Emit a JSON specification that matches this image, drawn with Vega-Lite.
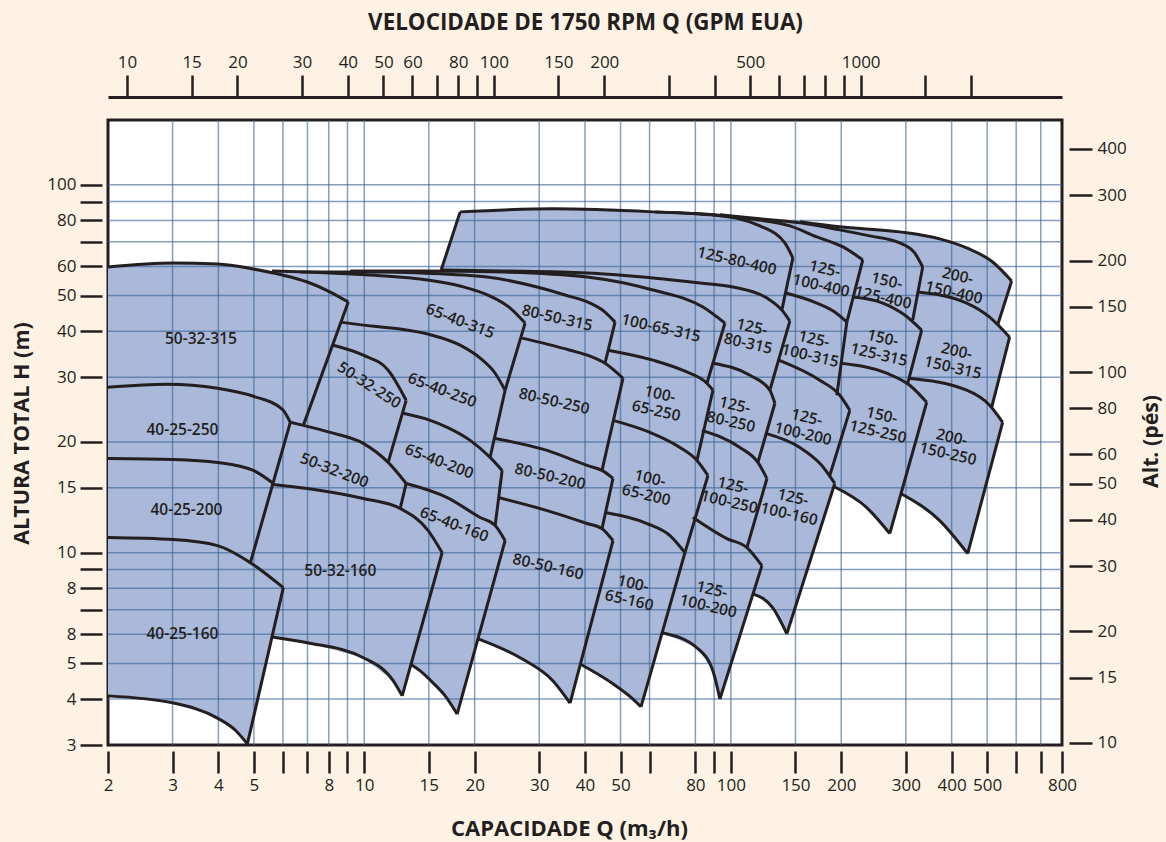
{
"$schema":"https://vega.github.io/schema/vega-lite/v6.json",
"width":954,"height":625,
"autosize":"none",
"padding":{"left":108,"top":120,"right":104,"bottom":97},
"background":"#fef2e4",
"config":{"view":{"fill":"#ffffff","stroke":"#231f20","strokeWidth":3}},
"datasets":{
"fill":[
{"i":0,"Q":2,"H":59.77},{"i":1,"Q":3.017,"H":61.3},{"i":2,"Q":3.977,"H":60.91},{"i":3,"Q":4.984,"H":59.03},{"i":4,"Q":5.756,"H":57.93},{"i":5,"Q":8.08,"H":57.93},{"i":6,"Q":11.41,"H":58.3},{"i":7,"Q":16.21,"H":58.66},{"i":8,"Q":18.26,"H":84.4},{"i":9,"Q":32.73,"H":86.02},{"i":10,"Q":61.3,"H":84.4},{"i":11,"Q":82.32,"H":83.37},{"i":12,"Q":93.33,"H":82.85},{"i":13,"Q":120,"H":80.8},{"i":14,"Q":154.2,"H":79.29},{"i":15,"Q":198.2,"H":76.85},{"i":16,"Q":288.7,"H":74.47},{"i":17,"Q":371.1,"H":71.27},{"i":18,"Q":439.6,"H":67.35},{"i":19,"Q":517.5,"H":61.68},{"i":20,"Q":583.1,"H":54.75},{"i":21,"Q":534,"H":41.54},{"i":22,"Q":575.7,"H":38.53},{"i":23,"Q":514.3,"H":24.84},{"i":24,"Q":551,"H":22.61},{"i":25,"Q":442.4,"H":9.94},{"i":26,"Q":371.1,"H":12.22},{"i":27,"Q":290.5,"H":14.48},{"i":28,"Q":271.2,"H":11.27},{"i":29,"Q":234.7,"H":13.26},{"i":30,"Q":190.8,"H":15.13},{"i":31,"Q":142.1,"H":6.02},{"i":32,"Q":130.1,"H":7.08},{"i":33,"Q":114.8,"H":7.73},{"i":34,"Q":93.33,"H":4},{"i":35,"Q":89.33,"H":4.77},{"i":36,"Q":80.8,"H":5.51},{"i":37,"Q":65.26,"H":6.05},{"i":38,"Q":56.86,"H":3.81},{"i":39,"Q":54.08,"H":4},{"i":40,"Q":47.69,"H":4.4},{"i":41,"Q":38.79,"H":4.98},{"i":42,"Q":36.42,"H":3.9},{"i":43,"Q":32.73,"H":4.48},{"i":44,"Q":26.61,"H":5.18},{"i":45,"Q":20.44,"H":5.83},{"i":46,"Q":17.92,"H":3.64},{"i":47,"Q":16.62,"H":4.08},{"i":48,"Q":15.42,"H":4.42},{"i":49,"Q":14.21,"H":4.77},{"i":50,"Q":13.34,"H":4.98},{"i":51,"Q":12.69,"H":4.08},{"i":52,"Q":12,"H":4.48},{"i":53,"Q":9.94,"H":5.18},{"i":54,"Q":6.993,"H":5.69},{"i":55,"Q":5.614,"H":5.9},{"i":56,"Q":4.8,"H":3.02},{"i":57,"Q":4.451,"H":3.29},{"i":58,"Q":3.977,"H":3.55},{"i":59,"Q":3.017,"H":3.9},{"i":60,"Q":2,"H":4.08}
],
"lines":[
{"k":"T1_250","i":0,"Q":2,"H":28.16},{"k":"T1_250","i":1,"Q":2.905,"H":28.69},{"k":"T1_250","i":2,"Q":3.977,"H":27.98},{"k":"T1_250","i":3,"Q":4.984,"H":26.61},{"k":"T1_250","i":4,"Q":5.978,"H":24.53},{"k":"T1_250","i":5,"Q":6.285,"H":22.61},
{"k":"E1a","i":0,"Q":4.891,"H":9.39},{"k":"E1a","i":1,"Q":6.285,"H":22.61},
{"k":"T1_200","i":0,"Q":2,"H":18.03},{"k":"T1_200","i":1,"Q":3.017,"H":17.92},{"k":"T1_200","i":2,"Q":3.977,"H":17.59},{"k":"T1_200","i":3,"Q":4.984,"H":16.73},{"k":"T1_200","i":4,"Q":5.649,"H":15.42},
{"k":"T1_160","i":0,"Q":2,"H":10.99},{"k":"T1_160","i":1,"Q":3.017,"H":10.85},{"k":"T1_160","i":2,"Q":3.977,"H":10.45},{"k":"T1_160","i":3,"Q":4.891,"H":9.39},{"k":"T1_160","i":4,"Q":6.015,"H":8.03},
{"k":"E1b","i":0,"Q":4.8,"H":3.02},{"k":"E1b","i":1,"Q":6.015,"H":8.03},
{"k":"B1","i":0,"Q":2,"H":4.08},{"k":"B1","i":1,"Q":3.017,"H":3.9},{"k":"B1","i":2,"Q":3.977,"H":3.55},{"k":"B1","i":3,"Q":4.451,"H":3.29},{"k":"B1","i":4,"Q":4.8,"H":3.02},
{"k":"T2_315","i":0,"Q":2,"H":59.77},{"k":"T2_315","i":1,"Q":3.017,"H":61.3},{"k":"T2_315","i":2,"Q":3.977,"H":60.91},{"k":"T2_315","i":3,"Q":4.984,"H":59.03},{"k":"T2_315","i":4,"Q":5.978,"H":56.86},{"k":"T2_315","i":5,"Q":6.993,"H":54.41},{"k":"T2_315","i":6,"Q":8.08,"H":51.1},{"k":"T2_315","i":7,"Q":9.045,"H":47.99},
{"k":"E2_315","i":0,"Q":6.82,"H":22.18},{"k":"E2_315","i":1,"Q":9.045,"H":47.99},
{"k":"T2_250","i":0,"Q":8.232,"H":36.64},{"k":"T2_250","i":1,"Q":9.94,"H":34.42},{"k":"T2_250","i":2,"Q":11.62,"H":31.33},{"k":"T2_250","i":3,"Q":13.01,"H":25.95},
{"k":"E2_250","i":0,"Q":11.62,"H":17.59},{"k":"E2_250","i":1,"Q":13.01,"H":25.95},
{"k":"T2_200","i":0,"Q":6.285,"H":22.61},{"k":"T2_200","i":1,"Q":6.82,"H":22.18},{"k":"T2_200","i":2,"Q":8.08,"H":21.23},{"k":"T2_200","i":3,"Q":9.94,"H":19.82},{"k":"T2_200","i":4,"Q":11.62,"H":17.59},{"k":"T2_200","i":5,"Q":13.01,"H":15.42},
{"k":"E2_200","i":0,"Q":12.53,"H":13.18},{"k":"E2_200","i":1,"Q":13.01,"H":15.42},
{"k":"T2_160","i":0,"Q":5.649,"H":15.32},{"k":"T2_160","i":1,"Q":6.993,"H":14.94},{"k":"T2_160","i":2,"Q":9.94,"H":14.03},{"k":"T2_160","i":3,"Q":12.53,"H":13.18},{"k":"T2_160","i":4,"Q":14.94,"H":11.48},{"k":"T2_160","i":5,"Q":16.31,"H":10},
{"k":"E2_160","i":0,"Q":12.69,"H":4.08},{"k":"E2_160","i":1,"Q":16.31,"H":10},
{"k":"B2","i":0,"Q":5.614,"H":5.9},{"k":"B2","i":1,"Q":6.993,"H":5.69},{"k":"B2","i":2,"Q":9.94,"H":5.18},{"k":"B2","i":3,"Q":12,"H":4.48},{"k":"B2","i":4,"Q":12.69,"H":4.08},
{"k":"T3_315","i":0,"Q":5.6,"H":58.3},{"k":"T3_315","i":1,"Q":8.08,"H":57.57},{"k":"T3_315","i":2,"Q":11.41,"H":56.49},{"k":"T3_315","i":3,"Q":14.21,"H":55.44},{"k":"T3_315","i":4,"Q":18.26,"H":53.07},{"k":"T3_315","i":5,"Q":22.04,"H":49.83},{"k":"T3_315","i":6,"Q":25,"H":46.22},{"k":"T3_315","i":7,"Q":27.46,"H":42.07},
{"k":"E3_315","i":0,"Q":24.22,"H":27.64},{"k":"E3_315","i":1,"Q":27.46,"H":42.07},
{"k":"T3_250","i":0,"Q":8.603,"H":42.33},{"k":"T3_250","i":1,"Q":9.94,"H":41.54},{"k":"T3_250","i":2,"Q":12.53,"H":40.52},{"k":"T3_250","i":3,"Q":14.94,"H":39.26},{"k":"T3_250","i":4,"Q":18.26,"H":36.64},{"k":"T3_250","i":5,"Q":20.71,"H":33.78},{"k":"T3_250","i":6,"Q":22.75,"H":30.74},{"k":"T3_250","i":7,"Q":24.22,"H":27.64},
{"k":"E3_250","i":0,"Q":22.04,"H":18.15},{"k":"E3_250","i":1,"Q":24.22,"H":27.64},
{"k":"T3_200","i":0,"Q":12.77,"H":23.92},{"k":"T3_200","i":1,"Q":15.13,"H":22.89},{"k":"T3_200","i":2,"Q":16.84,"H":21.91},{"k":"T3_200","i":3,"Q":19.45,"H":20.19},{"k":"T3_200","i":4,"Q":22.04,"H":18.15},{"k":"T3_200","i":5,"Q":23.77,"H":16.73},
{"k":"E3_200","i":0,"Q":22.75,"H":11.85},{"k":"E3_200","i":1,"Q":23.77,"H":16.73},
{"k":"T3_160","i":0,"Q":13.01,"H":15.42},{"k":"T3_160","i":1,"Q":16.84,"H":14.12},{"k":"T3_160","i":2,"Q":20.71,"H":12.46},{"k":"T3_160","i":3,"Q":22.75,"H":11.85},{"k":"T3_160","i":4,"Q":24.22,"H":10.78},
{"k":"E3_160","i":0,"Q":17.92,"H":3.64},{"k":"E3_160","i":1,"Q":24.22,"H":10.78},
{"k":"B3","i":0,"Q":13.34,"H":4.98},{"k":"B3","i":1,"Q":14.21,"H":4.77},{"k":"B3","i":2,"Q":15.42,"H":4.42},{"k":"B3","i":3,"Q":16.62,"H":4.08},{"k":"B3","i":4,"Q":17.92,"H":3.64},
{"k":"T4_315","i":0,"Q":6.692,"H":57.93},{"k":"T4_315","i":1,"Q":11.41,"H":57.93},{"k":"T4_315","i":2,"Q":14.21,"H":57.57},{"k":"T4_315","i":3,"Q":21.64,"H":56.14},{"k":"T4_315","i":4,"Q":29.61,"H":52.74},{"k":"T4_315","i":5,"Q":35.3,"H":50.15},{"k":"T4_315","i":6,"Q":41.29,"H":47.69},{"k":"T4_315","i":7,"Q":45.36,"H":45.08},{"k":"T4_315","i":8,"Q":48.3,"H":42.33},
{"k":"E4_315","i":0,"Q":45.36,"H":32.73},{"k":"E4_315","i":1,"Q":48.3,"H":42.33},
{"k":"T4_250","i":0,"Q":26.95,"H":38.29},{"k":"T4_250","i":1,"Q":31.52,"H":36.88},{"k":"T4_250","i":2,"Q":36.42,"H":35.51},{"k":"T4_250","i":3,"Q":41.29,"H":34.2},{"k":"T4_250","i":4,"Q":45.36,"H":32.73},{"k":"T4_250","i":5,"Q":50.78,"H":29.79},
{"k":"E4_250","i":0,"Q":44.51,"H":16.73},{"k":"E4_250","i":1,"Q":50.78,"H":29.79},
{"k":"T4_200","i":0,"Q":22.75,"H":20.44},{"k":"T4_200","i":1,"Q":31.52,"H":18.96},{"k":"T4_200","i":2,"Q":40.52,"H":17.26},{"k":"T4_200","i":3,"Q":44.51,"H":16.73},{"k":"T4_200","i":4,"Q":47.69,"H":15.91},
{"k":"E4_200","i":0,"Q":44.51,"H":11.62},{"k":"E4_200","i":1,"Q":47.69,"H":15.91},
{"k":"T4_160","i":0,"Q":23.18,"H":14.12},{"k":"T4_160","i":1,"Q":31.52,"H":13.01},{"k":"T4_160","i":2,"Q":40.52,"H":12},{"k":"T4_160","i":3,"Q":44.51,"H":11.62},{"k":"T4_160","i":4,"Q":47.69,"H":10.78},
{"k":"E4_160","i":0,"Q":36.42,"H":3.9},{"k":"E4_160","i":1,"Q":47.69,"H":10.78},
{"k":"B4","i":0,"Q":20.44,"H":5.83},{"k":"B4","i":1,"Q":26.61,"H":5.18},{"k":"B4","i":2,"Q":32.73,"H":4.48},{"k":"B4","i":3,"Q":36.42,"H":3.9},
{"k":"T5_315","i":0,"Q":9.16,"H":58.3},{"k":"T5_315","i":1,"Q":14.21,"H":58.3},{"k":"T5_315","i":2,"Q":23.92,"H":57.93},{"k":"T5_315","i":3,"Q":40.52,"H":56.14},{"k":"T5_315","i":4,"Q":61.3,"H":51.75},{"k":"T5_315","i":5,"Q":83.89,"H":46.51},{"k":"T5_315","i":6,"Q":96.31,"H":42.07},
{"k":"E5_315","i":0,"Q":86.02,"H":28.87},{"k":"E5_315","i":1,"Q":96.31,"H":42.07},
{"k":"T5_250","i":0,"Q":46.22,"H":35.51},{"k":"T5_250","i":1,"Q":61.3,"H":33.36},{"k":"T5_250","i":2,"Q":74.94,"H":31.13},{"k":"T5_250","i":3,"Q":86.02,"H":28.87},{"k":"T5_250","i":4,"Q":89.33,"H":27.64},
{"k":"E5_250","i":0,"Q":80.8,"H":17.81},{"k":"E5_250","i":1,"Q":89.33,"H":27.64},
{"k":"T5_200","i":0,"Q":47.69,"H":22.89},{"k":"T5_200","i":1,"Q":60.16,"H":21.23},{"k":"T5_200","i":2,"Q":72.62,"H":19.32},{"k":"T5_200","i":3,"Q":80.8,"H":17.81},{"k":"T5_200","i":4,"Q":86.57,"H":16.21},
{"k":"E5_200","i":0,"Q":74.94,"H":10},{"k":"E5_200","i":1,"Q":86.57,"H":16.21},
{"k":"T5_160","i":0,"Q":45.36,"H":12.85},{"k":"T5_160","i":1,"Q":59.04,"H":12},{"k":"T5_160","i":2,"Q":68.21,"H":11.13},{"k":"T5_160","i":3,"Q":74.94,"H":10},
{"k":"E5_160","i":0,"Q":56.86,"H":3.81},{"k":"E5_160","i":1,"Q":74.94,"H":10},
{"k":"B5","i":0,"Q":38.79,"H":4.98},{"k":"B5","i":1,"Q":47.69,"H":4.4},{"k":"B5","i":2,"Q":54.08,"H":4},{"k":"B5","i":3,"Q":56.86,"H":3.81},
{"k":"E6_400L","i":0,"Q":16.21,"H":58.66},{"k":"E6_400L","i":1,"Q":18.26,"H":84.4},
{"k":"T6_400","i":0,"Q":18.26,"H":84.4},{"k":"T6_400","i":1,"Q":32.73,"H":86.02},{"k":"T6_400","i":2,"Q":61.3,"H":84.4},{"k":"T6_400","i":3,"Q":93.33,"H":82.32},{"k":"T6_400","i":4,"Q":120,"H":77.33},{"k":"T6_400","i":5,"Q":140.3,"H":69.5},{"k":"T6_400","i":6,"Q":147.6,"H":63.24},
{"k":"E6_400","i":0,"Q":137.7,"H":45.64},{"k":"E6_400","i":1,"Q":147.6,"H":63.24},
{"k":"T6_315","i":0,"Q":16.21,"H":58.66},{"k":"T6_315","i":1,"Q":23.92,"H":58.3},{"k":"T6_315","i":2,"Q":40.52,"H":57.57},{"k":"T6_315","i":3,"Q":61.3,"H":55.79},{"k":"T6_315","i":4,"Q":82.32,"H":54.08},{"k":"T6_315","i":5,"Q":101.3,"H":52.74},{"k":"T6_315","i":6,"Q":125.4,"H":49.21},{"k":"T6_315","i":7,"Q":137.7,"H":45.64},{"k":"T6_315","i":8,"Q":144.8,"H":42.6},
{"k":"E6_315","i":0,"Q":127.7,"H":27.64},{"k":"E6_315","i":1,"Q":144.8,"H":42.6},
{"k":"T6_250","i":0,"Q":89.33,"H":32.73},{"k":"T6_250","i":1,"Q":112.7,"H":30.36},{"k":"T6_250","i":2,"Q":127.7,"H":27.64},{"k":"T6_250","i":3,"Q":131.8,"H":25.47},
{"k":"E6_250","i":0,"Q":118.5,"H":17.59},{"k":"E6_250","i":1,"Q":131.8,"H":25.47},
{"k":"T6_250b","i":0,"Q":83.37,"H":21.5},{"k":"T6_250b","i":1,"Q":105.8,"H":19.32},{"k":"T6_250b","i":2,"Q":118.5,"H":17.59},{"k":"T6_250b","i":3,"Q":125.4,"H":15.91},
{"k":"E6_250b","i":0,"Q":110.6,"H":10.32},{"k":"E6_250b","i":1,"Q":125.4,"H":15.91},
{"k":"T6_200b","i":0,"Q":78.8,"H":12.46},{"k":"T6_200b","i":1,"Q":97.52,"H":10.92},{"k":"T6_200b","i":2,"Q":110.6,"H":10.32},{"k":"T6_200b","i":3,"Q":121.5,"H":9.22},
{"k":"E6_200b","i":0,"Q":93.33,"H":4},{"k":"E6_200b","i":1,"Q":121.5,"H":9.22},
{"k":"B6","i":0,"Q":65.26,"H":6.05},{"k":"B6","i":1,"Q":80.8,"H":5.51},{"k":"B6","i":2,"Q":89.33,"H":4.77},{"k":"B6","i":3,"Q":93.33,"H":4},
{"k":"T7_400","i":0,"Q":62.07,"H":84.4},{"k":"T7_400","i":1,"Q":82.32,"H":83.37},{"k":"T7_400","i":2,"Q":112.7,"H":80.8},{"k":"T7_400","i":3,"Q":144.8,"H":77.33},{"k":"T7_400","i":4,"Q":171.5,"H":72.17},{"k":"T7_400","i":5,"Q":204.5,"H":67.35},{"k":"T7_400","i":6,"Q":228.9,"H":62.46},
{"k":"E7_400","i":0,"Q":207.1,"H":42.33},{"k":"E7_400","i":1,"Q":228.9,"H":62.46},
{"k":"T7_315","i":0,"Q":141.2,"H":50.78},{"k":"T7_315","i":1,"Q":171.5,"H":47.69},{"k":"T7_315","i":2,"Q":192,"H":45.08},{"k":"T7_315","i":3,"Q":207.1,"H":42.33},
{"k":"E7_315","i":0,"Q":194.5,"H":26.78},{"k":"E7_315","i":1,"Q":207.1,"H":42.33},
{"k":"T7_250","i":0,"Q":135.1,"H":33.36},{"k":"T7_250","i":1,"Q":174.8,"H":29.42},{"k":"T7_250","i":2,"Q":198.2,"H":26.78},{"k":"T7_250","i":3,"Q":211,"H":24.37},
{"k":"E7_250","i":0,"Q":186.1,"H":16.21},{"k":"E7_250","i":1,"Q":211,"H":24.37},
{"k":"T7_200","i":0,"Q":124.5,"H":21.1},{"k":"T7_200","i":1,"Q":154.2,"H":19.32},{"k":"T7_200","i":2,"Q":177,"H":17.26},{"k":"T7_200","i":3,"Q":192,"H":15.42},
{"k":"E7_200","i":0,"Q":142.1,"H":6.02},{"k":"E7_200","i":1,"Q":192,"H":15.42},
{"k":"B7","i":0,"Q":114.8,"H":7.73},{"k":"B7","i":1,"Q":130.1,"H":7.08},{"k":"B7","i":2,"Q":142.1,"H":6.02},
{"k":"T8_400","i":0,"Q":93.33,"H":82.85},{"k":"T8_400","i":1,"Q":120,"H":80.8},{"k":"T8_400","i":2,"Q":154.2,"H":78.8},{"k":"T8_400","i":3,"Q":198.2,"H":75.41},{"k":"T8_400","i":4,"Q":239.2,"H":72.62},{"k":"T8_400","i":5,"Q":288.7,"H":69.5},{"k":"T8_400","i":6,"Q":317.2,"H":65.26},{"k":"T8_400","i":7,"Q":333.5,"H":59.77},
{"k":"E8_400","i":0,"Q":313.3,"H":42.87},{"k":"E8_400","i":1,"Q":333.5,"H":59.77},
{"k":"T8_315","i":0,"Q":215,"H":49.52},{"k":"T8_315","i":1,"Q":259.5,"H":47.69},{"k":"T8_315","i":2,"Q":297.9,"H":44.24},{"k":"T8_315","i":3,"Q":331.4,"H":40.26},
{"k":"E8_315","i":0,"Q":303.6,"H":28.87},{"k":"E8_315","i":1,"Q":331.4,"H":40.26},
{"k":"T8_250","i":0,"Q":199.4,"H":32.73},{"k":"T8_250","i":1,"Q":266.1,"H":30.74},{"k":"T8_250","i":2,"Q":307.4,"H":28.51},{"k":"T8_250","i":3,"Q":342,"H":25.63},
{"k":"E8_250","i":0,"Q":271.2,"H":11.27},{"k":"E8_250","i":1,"Q":342,"H":25.63},
{"k":"B8","i":0,"Q":190.8,"H":15.13},{"k":"B8","i":1,"Q":234.7,"H":13.26},{"k":"B8","i":2,"Q":271.2,"H":11.27},
{"k":"T9_400","i":0,"Q":154.2,"H":79.29},{"k":"T9_400","i":1,"Q":198.2,"H":76.85},{"k":"T9_400","i":2,"Q":288.7,"H":74.47},{"k":"T9_400","i":3,"Q":371.1,"H":71.27},{"k":"T9_400","i":4,"Q":439.6,"H":67.35},{"k":"T9_400","i":5,"Q":517.5,"H":61.68},{"k":"T9_400","i":6,"Q":583.1,"H":54.75},
{"k":"E9_400","i":0,"Q":534,"H":41.54},{"k":"E9_400","i":1,"Q":583.1,"H":54.75},
{"k":"T9_315","i":0,"Q":323.2,"H":51.1},{"k":"T9_315","i":1,"Q":439.6,"H":47.69},{"k":"T9_315","i":2,"Q":507.8,"H":43.68},{"k":"T9_315","i":3,"Q":575.7,"H":38.53},
{"k":"E9_315","i":0,"Q":514.3,"H":24.84},{"k":"E9_315","i":1,"Q":575.7,"H":38.53},
{"k":"T9_250","i":0,"Q":305.5,"H":29.79},{"k":"T9_250","i":1,"Q":439.6,"H":27.64},{"k":"T9_250","i":2,"Q":507.8,"H":25.15},{"k":"T9_250","i":3,"Q":551,"H":22.61},
{"k":"E9_250","i":0,"Q":442.4,"H":9.94},{"k":"E9_250","i":1,"Q":551,"H":22.61},
{"k":"B9","i":0,"Q":290.5,"H":14.48},{"k":"B9","i":1,"Q":371.1,"H":12.22},{"k":"B9","i":2,"Q":442.4,"H":9.94}
],
"vg":[{"Q":3},{"Q":4},{"Q":5},{"Q":6},{"Q":7},{"Q":8},{"Q":9},{"Q":10},{"Q":15},{"Q":20},{"Q":30},{"Q":40},{"Q":50},{"Q":60},{"Q":80},{"Q":90},{"Q":100},{"Q":150},{"Q":200},{"Q":300},{"Q":400},{"Q":500},{"Q":600},{"Q":700}],
"hg":[{"H":4},{"H":5},{"H":6},{"H":7},{"H":8},{"H":9},{"H":10},{"H":15},{"H":20},{"H":30},{"H":40},{"H":50},{"H":60},{"H":70},{"H":80},{"H":90},{"H":100}],
"lab0":[{"t":"50-32-315","Q":3.585,"H":38.16},{"t":"40-25-250","Q":3.192,"H":21.5},{"t":"40-25-200","Q":3.273,"H":13.1},{"t":"40-25-160","Q":3.192,"H":6.02},{"t":"50-32-160","Q":8.603,"H":8.93}],
"lab21":[{"t":"50-32-200","Q":8.285,"H":16.73},{"t":"65-40-315","Q":18.26,"H":42.6},{"t":"65-40-250","Q":16.31,"H":27.64},{"t":"65-40-200","Q":16.01,"H":17.7},{"t":"65-40-160","Q":17.59,"H":11.92}],
"lab33":[{"t":"50-32-250","Q":10.32,"H":28.51}],
"lab13":[{"t":"80-50-315","Q":33.57,"H":43.41},{"t":"80-50-250","Q":32.94,"H":25.79},{"t":"80-50-200","Q":32.12,"H":16.11},{"t":"80-50-160","Q":31.72,"H":9.16},{"t":"100-65-315","Q":64.45,"H":40.77},{"t":"100-\n65-250","Q":64.05,"H":26.95},{"t":"100-\n65-200","Q":60.16,"H":15.91},{"t":"100-\n65-160","Q":54.08,"H":8.23},{"t":"125-80-400","Q":103.8,"H":62.07},{"t":"125-\n80-315","Q":114.1,"H":41.03},{"t":"125-\n80-250","Q":102.5,"H":25.15},{"t":"125-\n100-250","Q":101.3,"H":15.23},{"t":"125-\n100-200","Q":88.77,"H":7.93},{"t":"125-\n100-400","Q":180.4,"H":59.03},{"t":"125-\n100-315","Q":168.4,"H":38.05},{"t":"125-\n100-200","Q":161.1,"H":23.32},{"t":"125-\n100-160","Q":147.6,"H":14.12},{"t":"150-\n125-400","Q":266.1,"H":54.75},{"t":"150-\n125-315","Q":259.5,"H":38.29},{"t":"150-\n125-250","Q":257.9,"H":23.62},{"t":"200-\n150-400","Q":415.4,"H":56.49},{"t":"200-\n150-315","Q":412.8,"H":35.3},{"t":"200-\n150-250","Q":400.2,"H":20.58}],
"dummy":[{"gpm":10,"ft":10},{"gpm":2000,"ft":400}]
},
"layer":[
{"layer":[
{"data":{"name":"fill"},
 "mark":{"type":"line","interpolate":"linear-closed","fill":"#aab9d9","strokeOpacity":0},
 "encoding":{
  "x":{"field":"Q","type":"quantitative","scale":{"type":"log","domain":[2,800],"nice":false},
   "axis":{"orient":"bottom","values":[2,3,4,5,6,7,8,9,10,15,20,30,40,50,60,80,90,100,150,200,300,400,500,600,700,800],"format":"d","labelExpr":"indexof([6,7,9,60,90,600,700], datum.value) >= 0 ? '' : datum.label","domain":false,"grid":false,"offset":6,"tickSize":22,"tickWidth":2.5,"tickColor":"#231f20","labelFont":"Open Sans","labelFontSize":17,"labelColor":"#231f20","labelPadding":4,"labelFlush":false,"labelOverlap":false,"labelBound":false,"title":"CAPACIDADE Q (m₃/h)","titleFont":"Open Sans","titleFontSize":22,"titleFontWeight":"bold","titleColor":"#231f20","titleX":461,"titleY":77,"titleAlign":"center","titleBaseline":"middle"}},
  "y":{"field":"H","type":"quantitative","scale":{"type":"log","domain":[3,150],"nice":false},
   "axis":{"orient":"left","values":[3,4,5,6,7,8,9,10,15,20,30,40,50,60,70,80,90,100],"format":"d","labelExpr":"datum.value == 6 ? '8' : (indexof([7,9,70,90], datum.value) >= 0 ? '' : datum.label)","domain":false,"grid":false,"offset":6,"tickSize":22,"tickWidth":2.5,"tickColor":"#231f20","labelFont":"Open Sans","labelFontSize":17,"labelColor":"#231f20","labelPadding":4,"labelFlush":false,"labelOverlap":false,"labelBound":false,"title":"ALTURA TOTAL H (m)","titleFont":"Open Sans","titleFontSize":21.5,"titleFontWeight":"bold","titleColor":"#231f20","titleAngle":270,"titleX":-80,"titleY":313,"titleAlign":"center","titleBaseline":"middle"}},
  "order":{"field":"i","type":"quantitative"}}},
{"data":{"name":"vg"},"mark":{"type":"rule","stroke":"#3a6496","strokeOpacity":0.62,"strokeWidth":1.5},"encoding":{"x":{"field":"Q","type":"quantitative"}}},
{"data":{"name":"hg"},"mark":{"type":"rule","stroke":"#3a6496","strokeOpacity":0.62,"strokeWidth":1.5},"encoding":{"y":{"field":"H","type":"quantitative"}}},
{"data":{"name":"lines"},"mark":{"type":"line","interpolate":"monotone","stroke":"#231f20","strokeWidth":3,"strokeMiterLimit":4},
 "encoding":{"x":{"field":"Q","type":"quantitative"},"y":{"field":"H","type":"quantitative"},"detail":{"field":"k"},"order":{"field":"i","type":"quantitative"}}},
{"data":{"name":"lab0"},"mark":{"type":"text","font":"Open Sans","fontWeight":600,"fontSize":15.5,"fill":"#231f20","align":"center","baseline":"middle","angle":0},
 "encoding":{"x":{"field":"Q","type":"quantitative"},"y":{"field":"H","type":"quantitative"},"text":{"field":"t"}}},
{"data":{"name":"lab21"},"mark":{"type":"text","font":"Open Sans","fontWeight":600,"fontSize":15.5,"fill":"#231f20","align":"center","baseline":"middle","angle":21},
 "encoding":{"x":{"field":"Q","type":"quantitative"},"y":{"field":"H","type":"quantitative"},"text":{"field":"t"}}},
{"data":{"name":"lab33"},"mark":{"type":"text","font":"Open Sans","fontWeight":600,"fontSize":15.5,"fill":"#231f20","align":"center","baseline":"middle","angle":33},
 "encoding":{"x":{"field":"Q","type":"quantitative"},"y":{"field":"H","type":"quantitative"},"text":{"field":"t"}}},
{"data":{"name":"lab13"},"mark":{"type":"text","font":"Open Sans","fontWeight":600,"fontSize":15.5,"fill":"#231f20","align":"center","baseline":"middle","angle":13,"lineBreak":"\n","lineHeight":17},
 "encoding":{"x":{"field":"Q","type":"quantitative"},"y":{"field":"H","type":"quantitative"},"text":{"field":"t"}}}
]},
{"data":{"name":"dummy"},"mark":{"type":"point","opacity":0},
 "encoding":{
  "x":{"field":"gpm","type":"quantitative","scale":{"type":"log","domain":[8.875,3540],"nice":false},
   "axis":{"orient":"top","values":[10,15,20,30,40,50,60,70,80,90,100,150,200,300,400,500,600,700,800,900,1000,1500,2000],"format":"d","labelExpr":"indexof([70,90,300,400,600,700,800,900,1500,2000], datum.value) >= 0 ? '' : datum.label","domain":true,"domainColor":"#231f20","domainWidth":3,"grid":false,"offset":23,"tickSize":22,"tickWidth":2.5,"tickColor":"#231f20","labelFont":"Open Sans","labelFontSize":17,"labelColor":"#231f20","labelPadding":4,"labelFlush":false,"labelOverlap":false,"labelBound":false,"title":"VELOCIDADE DE 1750 RPM Q (GPM EUA)","titleFont":"Open Sans","titleFontSize":22.4,"titleFontWeight":"bold","titleColor":"#231f20","titleY":-75,"titleBaseline":"middle"}},
  "y":{"field":"ft","type":"quantitative","scale":{"type":"log","domain":[9.876,478.6],"nice":false},
   "axis":{"orient":"right","values":[10,15,20,30,40,50,60,80,100,150,200,300,400],"format":"d","domain":false,"grid":false,"offset":7,"tickSize":23,"tickWidth":2.5,"tickColor":"#231f20","labelFont":"Open Sans","labelFontSize":17,"labelColor":"#231f20","labelPadding":5,"labelFlush":false,"labelOverlap":false,"labelBound":false,"title":"Alt. (pés)","titleFont":"Open Sans","titleFontSize":21.3,"titleFontWeight":"bold","titleColor":"#231f20","titleAngle":270,"titleX":82,"titleY":321,"titleAlign":"center","titleBaseline":"middle"}}}}
],
"resolve":{"scale":{"x":"independent","y":"independent"}}
}
